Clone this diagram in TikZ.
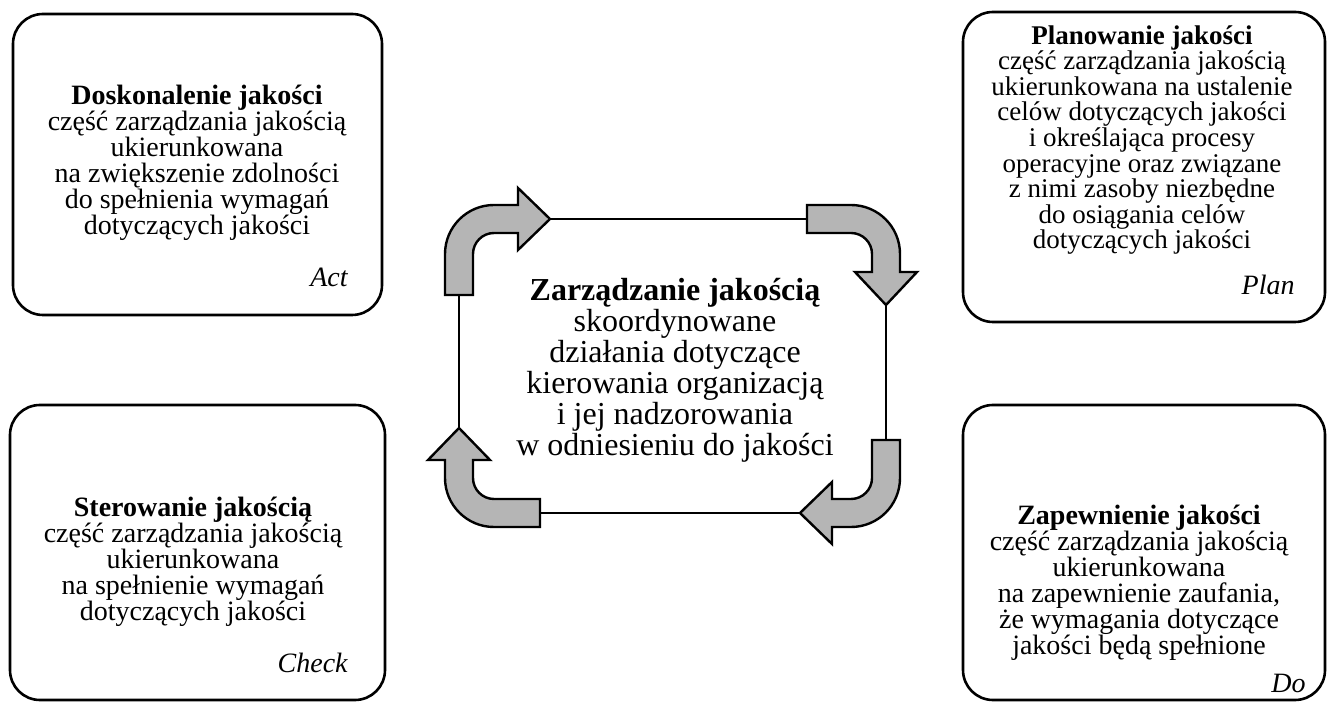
\documentclass[tikz,border=0pt]{standalone}
\usepackage{fontspec}
\setmainfont{Liberation Serif}
\usetikzlibrary{positioning}

\begin{document}
\begin{tikzpicture}[
  x=0.5pt, y=-0.5pt,
  qbox/.style={draw, line width=1.3pt, rounded corners=15pt, inner sep=0pt},
  boxtxt/.style={align=center, inner sep=0pt, font=\fontsize{14}{13}\selectfont},
  midtxt/.style={align=center, inner sep=0pt, font=\fontsize{16}{15.5}\selectfont},
  phase/.style={anchor=east, inner sep=0pt, font=\fontsize{14}{13}\selectfont\itshape},
  bendarr/.style={draw, line width=1.2pt, fill=gray!58, line join=miter},
  link/.style={line width=1pt}
]
\path[use as bounding box] (0,0) rectangle (1327,704);

% the four boxes
\node[qbox, minimum width=184.5pt, minimum height=150.5pt] (act)   at (197.5,164.5) {};
\node[qbox, minimum width=181pt,   minimum height=155pt]   (plan)  at (1144,167)    {};
\node[qbox, minimum width=187.5pt, minimum height=147.5pt] (check) at (197.5,552.5) {};
\node[qbox, minimum width=181pt,   minimum height=147.5pt] (do)    at (1144,552.5)  {};

\node[boxtxt] (acttxt) at (197,163) {\textbf{Doskonalenie jakości}\\
  część zarządzania jakością\\ ukierunkowana\\ na zwiększenie zdolności\\
  do spełnienia wymagań\\ dotyczących jakości};
\node[boxtxt, font=\fontsize{13.5}{12.8}\selectfont] (plantxt) at (1142,140) {\textbf{Planowanie jakości}\\
  część zarządzania jakością\\ ukierunkowana na ustalenie\\ celów dotyczących jakości\\
  i określająca procesy\\ operacyjne oraz związane\\ z nimi zasoby niezbędne\\
  do osiągania celów\\ dotyczących jakości};
\node[boxtxt] (checktxt) at (193,562) {\textbf{Sterowanie jakością}\\
  część zarządzania jakością\\ ukierunkowana\\ na spełnienie wymagań\\
  dotyczących jakości};
\node[boxtxt] (dotxt) at (1139,583) {\textbf{Zapewnienie jakości}\\
  część zarządzania jakością\\ ukierunkowana\\ na zapewnienie zaufania,\\
  że wymagania dotyczące\\ jakości będą spełnione};

\node[phase] (actlbl)   at (348,277)  {Act};
\node[phase] (planlbl)  at (1295,285) {Plan};
\node[phase] (checklbl) at (348,663)  {Check};
\node[phase] (dolbl)    at (1306,683) {Do};

% centre
\node[midtxt] (qm) at (675,370) {\textbf{Zarządzanie jakością}\\ skoordynowane\\
  działania dotyczące\\ kierowania organizacją\\ i jej nadzorowania\\
  w odniesieniu do jakości};

% bent arrows of the cycle
\draw[bendarr] (445,295) -- (445,254) arc[start angle=180, end angle=270, radius=49]
  -- (518,205) -- (518,188) -- (550,219) -- (518,250) -- (518,233) -- (494,233)
  arc[start angle=270, end angle=180, radius=21] -- (473,295) -- cycle;
\draw[bendarr] (807,205) -- (851,205) arc[start angle=270, end angle=360, radius=49]
  -- (900,272) -- (917,272) -- (886,305) -- (855,272) -- (872,272) -- (872,254)
  arc[start angle=0, end angle=-90, radius=21] -- (807,233) -- cycle;
\draw[bendarr] (872,440) -- (872,478) arc[start angle=0, end angle=90, radius=21]
  -- (832,499) -- (832,482) -- (800,513) -- (832,544) -- (832,527) -- (851,527)
  arc[start angle=90, end angle=0, radius=49] -- (900,440) -- cycle;
\draw[bendarr] (540,499) -- (494,499) arc[start angle=90, end angle=180, radius=21]
  -- (473,460) -- (490,460) -- (459,428) -- (428,460) -- (445,460) -- (445,478)
  arc[start angle=180, end angle=90, radius=49] -- (540,527) -- cycle;

\coordinate (tlHead) at (550,219);
\coordinate (trTail) at (807,219);
\coordinate (trHead) at (886,305);
\coordinate (brTail) at (886,440);
\coordinate (brHead) at (800,513);
\coordinate (blTail) at (540,513);
\coordinate (blHead) at (459,428);
\coordinate (tlTail) at (459,295);

\draw[link] (tlHead) -- (trTail);
\draw[link] (trHead) -- (brTail);
\draw[link] (brHead) -- (blTail);
\draw[link] (blHead) -- (tlTail);
\end{tikzpicture}
\end{document}
